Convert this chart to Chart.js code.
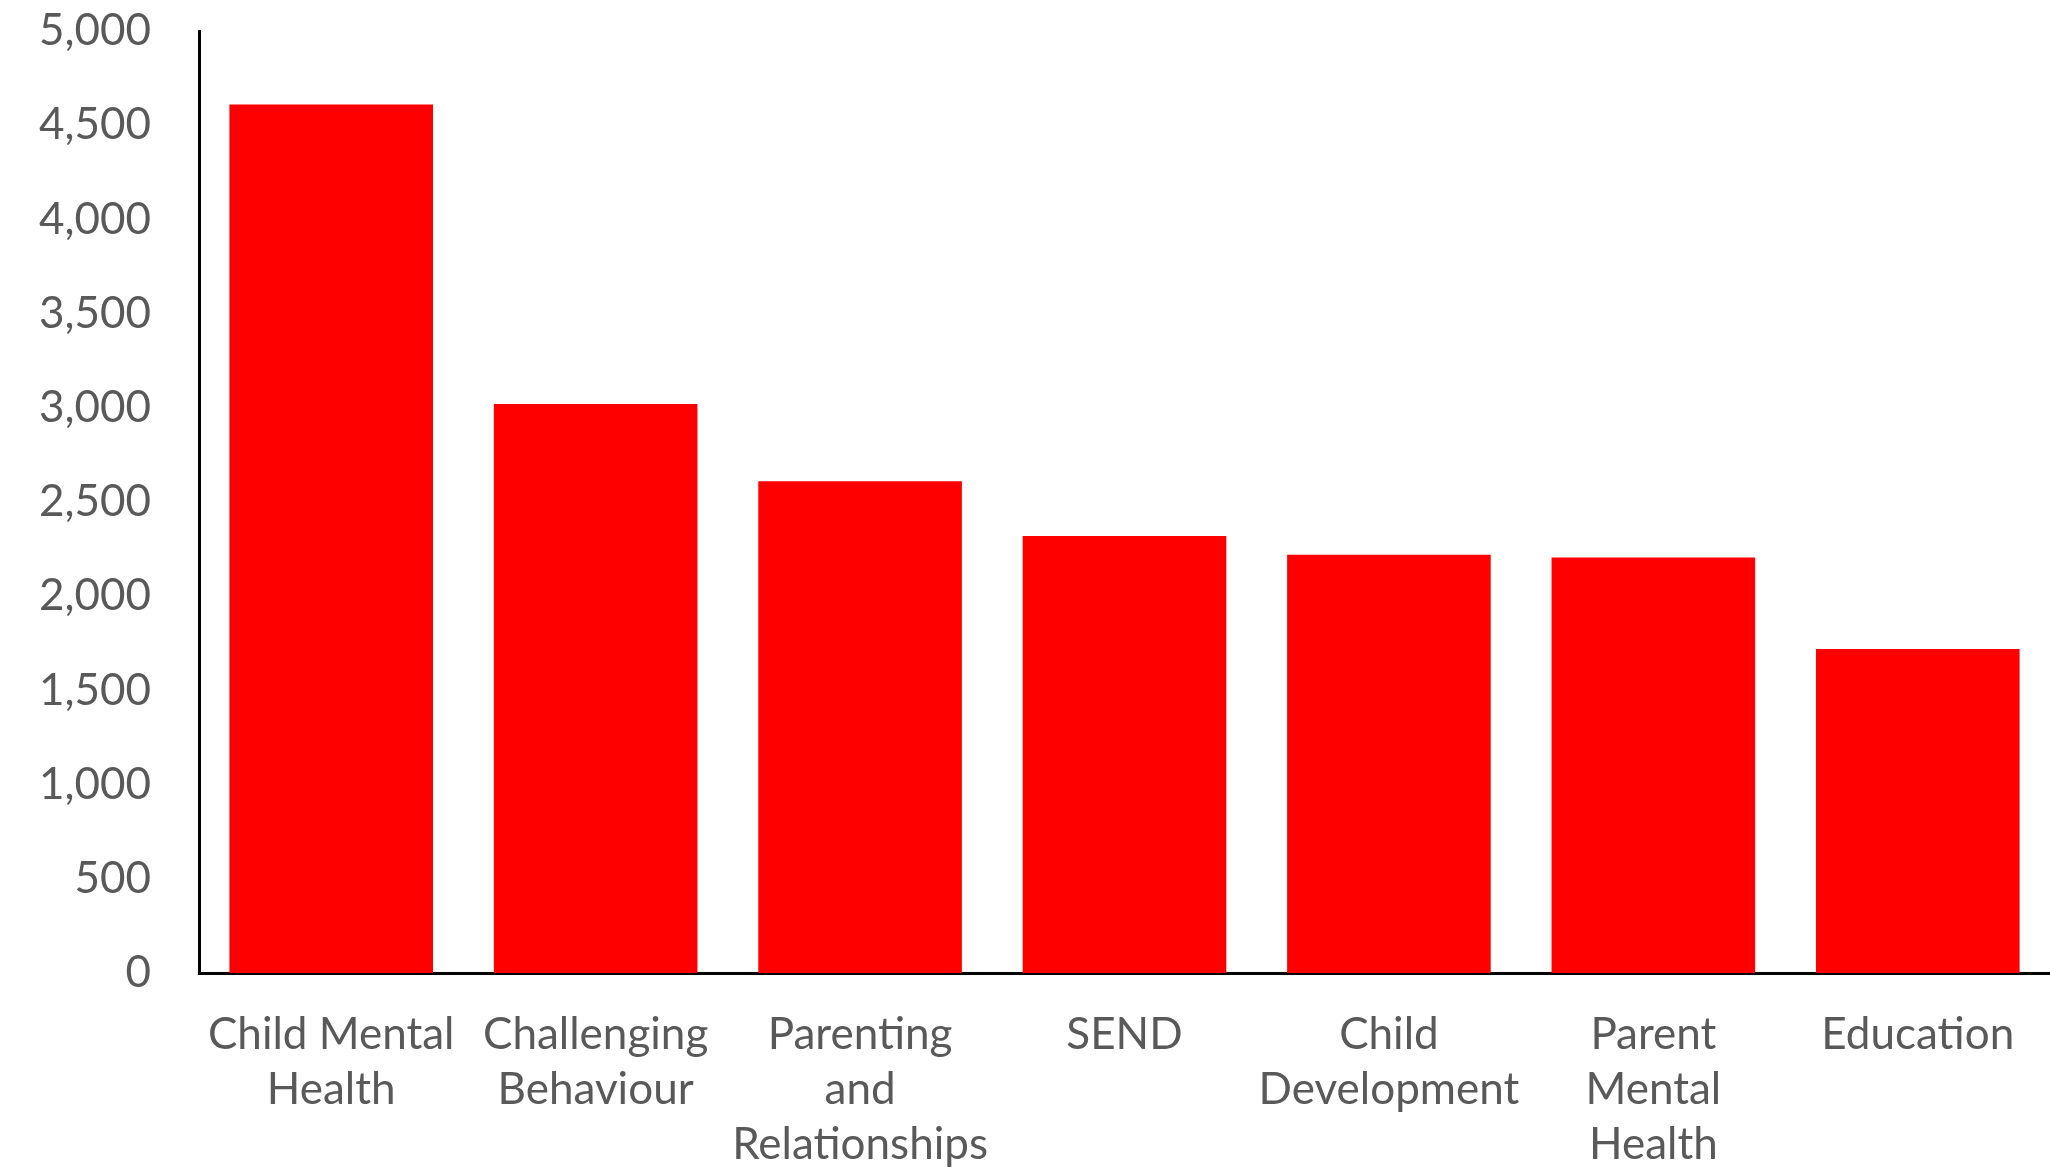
<!DOCTYPE html>
<html>
<head>
<meta charset="utf-8">
<script src="https://cdn.jsdelivr.net/npm/chart.js@4"></script>
<style>
  html, body { margin: 0; padding: 0; background: #fff; }
  #wrap { width: 2050px; height: 1169px; }
</style>
</head>
<body>
<div id="wrap"><canvas id="topics"></canvas></div>
<script>
var categories = [
    ["Child Mental", "Health"],
    ["Challenging", "Behaviour"],
    ["Parenting", "and", "Relationships"],
    "SEND",
    ["Child", "Development"],
    ["Parent", "Mental", "Health"],
    "Education"
];
var counts = [4610, 3020, 2610, 2320, 2220, 2205, 1720];
var yMin = 0, yMax = 5000, yStep = 500;

var textGrey = "#595959";
var fontFamily = "Lato, 'Open Sans', sans-serif";

var ctx = document.getElementById("topics").getContext('2d');
var chart = new Chart(ctx, {
    type: 'bar',
    data: {
        labels: categories,
        datasets: [{
            data: counts,
            backgroundColor: "#FF0000",
            borderWidth: 0,
            categoryPercentage: 1.0,
            barPercentage: 0.77
        }]
    },
    options: {
        responsive: true,
        maintainAspectRatio: false,
        animation: false,
        layout: { padding: { top: 31, right: 0, bottom: 0, left: 0 } },
        plugins: {
            legend: { display: false },
            tooltip: { enabled: false }
        },
        scales: {
            x: {
                grid: { display: false, drawTicks: false },
                border: { display: true, color: "#000", width: 3 },
                ticks: {
                    color: textGrey,
                    padding: 34,
                    maxRotation: 0,
                    autoSkip: false,
                    font: { family: fontFamily, size: 44, lineHeight: 1.25 }
                },
                afterFit: function(scale) { scale.height = 196; }
            },
            y: {
                min: yMin,
                max: yMax,
                grid: { display: false, drawTicks: false },
                border: { display: true, color: "#000", width: 3 },
                ticks: {
                    stepSize: yStep,
                    color: textGrey,
                    padding: 48,
                    font: { family: fontFamily, size: 44 },
                    callback: function(v) { return v.toLocaleString('en-US'); }
                },
                afterFit: function(scale) {
                    scale.width = 199;
                    scale.paddingTop = 0;
                    scale.paddingBottom = 0;
                }
            }
        }
    }
});
</script>
</body>
</html>
